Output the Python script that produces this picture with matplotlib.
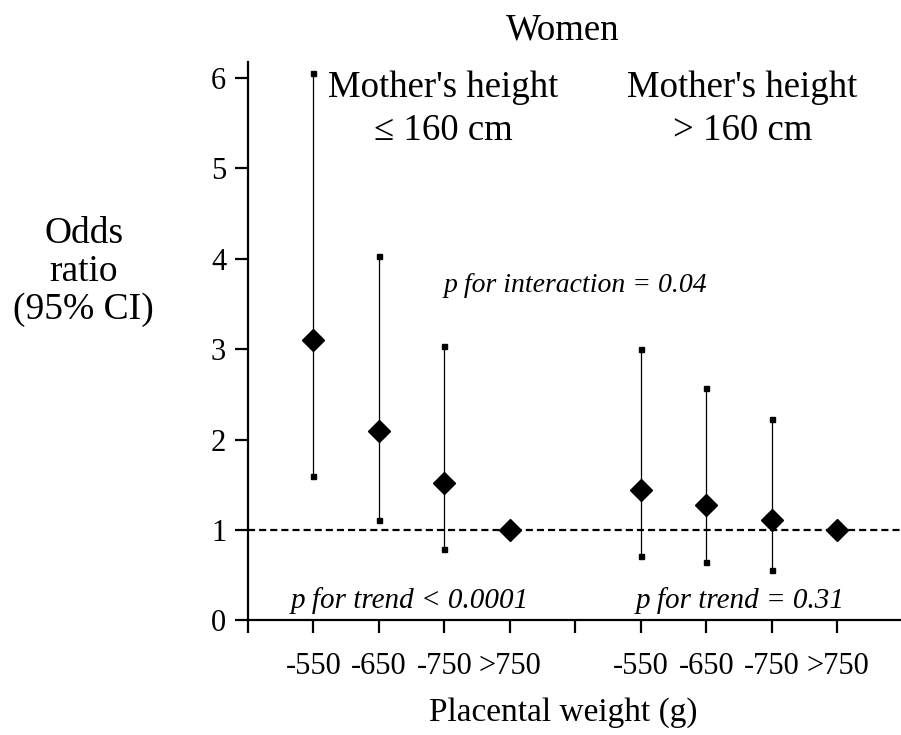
import matplotlib.pyplot as plt

# odds ratios by placental weight group, split by mother's height
groups = ["-550", "-650", "-750", ">750"]
short_or = [3.10, 2.10, 1.52, 1.00]
short_lo = [1.60, 1.11, 0.79, None]
short_hi = [6.06, 4.03, 3.03, None]
tall_or = [1.44, 1.28, 1.11, 1.00]
tall_lo = [0.71, 0.64, 0.56, None]
tall_hi = [3.00, 2.57, 2.23, None]

short_x = [1, 2, 3, 4]
tall_x = [6, 7, 8, 9]

plt.rcParams["font.family"] = ["Liberation Serif", "DejaVu Serif"]

fig = plt.figure(figsize=(9.01, 7.35), dpi=100)
ax = fig.add_axes([0.275, 0.156, 0.725, 0.76])


def draw_group(xs, ors, los, his):
    for x, o, lo, hi in zip(xs, ors, los, his):
        if lo is not None:
            ax.plot([x, x], [lo, hi], color="black", lw=0.9, zorder=2)
            ax.plot([x, x], [lo, hi], ls="none", marker="s", ms=3.6,
                    color="black", zorder=3)
    ax.plot(xs, ors, ls="none", marker="D", ms=11, color="black", zorder=4)


ax.axhline(1, color="black", lw=1.6, ls=(0, (3.2, 1.8)), zorder=1)
draw_group(short_x, short_or, short_lo, short_hi)
draw_group(tall_x, tall_or, tall_lo, tall_hi)

ax.set_xlim(0, 9.97)
ax.set_ylim(0, 6.18)
ax.set_xticks([0] + short_x + [5] + tall_x)
ax.set_xticklabels([""] + groups + [""] + groups)
ax.set_yticks(range(7))
ax.spines["right"].set_visible(False)
ax.spines["top"].set_visible(False)
ax.spines["left"].set_linewidth(1.6)
ax.spines["bottom"].set_linewidth(1.6)
ax.tick_params(axis="both", direction="out", length=9.5, width=1.6,
               labelsize=22, pad=6)
ax.tick_params(axis="x", pad=13)

fig.text(0.625, 0.959, "Women", ha="center", va="center", fontsize=26.5)
ax.text(2.98, 6.08, "Mother's height\n\u2264 160 cm", ha="center", va="top",
        fontsize=26.5, linespacing=1.32)
ax.text(7.55, 6.08, "Mother's height\n> 160 cm", ha="center", va="top",
        fontsize=26.5, linespacing=1.32)
ax.text(5.0, 3.7, "p for interaction = 0.04", ha="center", va="center",
        fontsize=20, style="italic")
ax.text(2.48, 0.22, "p for trend < 0.0001", ha="center", va="center",
        fontsize=21, style="italic")
ax.text(7.52, 0.22, "p for trend = 0.31", ha="center", va="center",
        fontsize=21, style="italic")

fig.text(0.093, 0.63, "Odds\nratio\n(95% CI)", ha="center", va="center",
         fontsize=27, linespacing=1.12)
fig.text(0.625, 0.03, "Placental weight (g)", ha="center", va="center",
         fontsize=24)

fig.savefig("out.png", dpi=100)
